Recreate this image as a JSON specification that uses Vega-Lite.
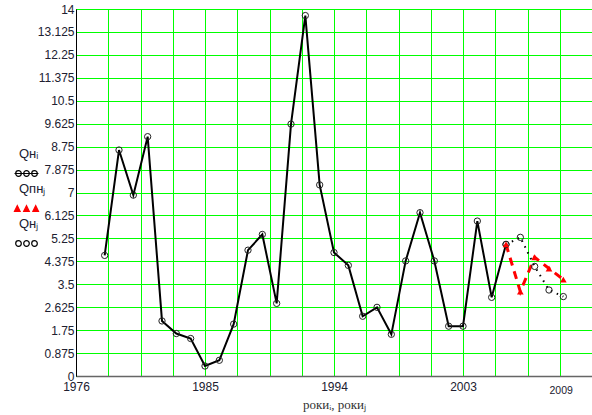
{
  "$schema": "https://vega.github.io/schema/vega-lite/v6.json",
  "width": 516,
  "height": 367,
  "autosize": {"type": "none"},
  "padding": {"left": 76, "top": 9, "right": 0, "bottom": 39},
  "background": "white",
  "config": {
    "view": {"stroke": "black", "strokeWidth": 1},
    "font": "Liberation Sans"
  },
  "data": {
    "values": [
      {"year": 1978, "Q": 4.6, "s": "a"},
      {"year": 1979, "Q": 8.62, "s": "a"},
      {"year": 1980, "Q": 6.9, "s": "a"},
      {"year": 1981, "Q": 9.13, "s": "a"},
      {"year": 1982, "Q": 2.1, "s": "a"},
      {"year": 1983, "Q": 1.62, "s": "a"},
      {"year": 1984, "Q": 1.43, "s": "a"},
      {"year": 1985, "Q": 0.38, "s": "a"},
      {"year": 1986, "Q": 0.6, "s": "a"},
      {"year": 1987, "Q": 1.98, "s": "a"},
      {"year": 1988, "Q": 4.8, "s": "a"},
      {"year": 1989, "Q": 5.4, "s": "a"},
      {"year": 1990, "Q": 2.77, "s": "a"},
      {"year": 1991, "Q": 9.61, "s": "a"},
      {"year": 1992, "Q": 13.75, "s": "a"},
      {"year": 1993, "Q": 7.29, "s": "a"},
      {"year": 1994, "Q": 4.71, "s": "a"},
      {"year": 1995, "Q": 4.22, "s": "a"},
      {"year": 1996, "Q": 2.28, "s": "a"},
      {"year": 1997, "Q": 2.62, "s": "a"},
      {"year": 1998, "Q": 1.59, "s": "a"},
      {"year": 1999, "Q": 4.39, "s": "a"},
      {"year": 2000, "Q": 6.23, "s": "a"},
      {"year": 2001, "Q": 4.39, "s": "a"},
      {"year": 2002, "Q": 1.9, "s": "a"},
      {"year": 2003, "Q": 1.9, "s": "a"},
      {"year": 2004, "Q": 5.91, "s": "a"},
      {"year": 2005, "Q": 3.0, "s": "a"},
      {"year": 2006, "Q": 5.02, "s": "a"},
      {"year": 2006, "Q": 5.02, "s": "b"},
      {"year": 2007, "Q": 3.22, "s": "b"},
      {"year": 2008, "Q": 4.53, "s": "b"},
      {"year": 2009, "Q": 4.1, "s": "b"},
      {"year": 2010, "Q": 3.68, "s": "b"},
      {"year": 2006, "Q": 5.02, "s": "c"},
      {"year": 2007, "Q": 5.29, "s": "c"},
      {"year": 2008, "Q": 4.18, "s": "c"},
      {"year": 2009, "Q": 3.28, "s": "c"},
      {"year": 2010, "Q": 3.03, "s": "c"}
    ]
  },
  "encoding": {
    "x": {
      "field": "year",
      "type": "quantitative",
      "scale": {"domain": [1976, 2012], "nice": false, "zero": false},
      "axis": {
        "values": [1976, 1978.25, 1980.5, 1982.75, 1985, 1987.25, 1989.5, 1991.75, 1994, 1996.25, 1998.5, 2000.75, 2003, 2005.25, 2007.5, 2009.75, 2012, 2009],
        "format": "d",
        "labelExpr": "indexof([1976,1985,1994,2003,2009], datum.value) >= 0 ? datum.label : ''",
        "grid": true,
        "gridColor": "#00ff00",
        "gridWidth": 1,
        "gridOpacity": {"condition": {"test": "datum.value == 2009", "value": 0}, "value": 1},
        "ticks": false,
        "labelFlush": false,
        "labelOverlap": false,
        "labelBound": false,
        "labelColor": "#202030",
        "labelFontSize": {"condition": {"test": "datum.value == 2009", "value": 10.5}, "value": 12},
        "labelAlign": {"condition": {"test": "datum.value == 2009", "value": "left"}, "value": "center"},
        "labelPadding": {"condition": {"test": "datum.value == 2009", "value": 9}, "value": 5},
        "domainColor": "#666666",
        "domainWidth": 1.5,
        "title": "рокиᵢ, рокиⱼ",
        "titleFont": "Liberation Serif",
        "titleFontSize": 13,
        "titleFontWeight": "normal",
        "titleColor": "#333333",
        "titlePadding": 3
      }
    },
    "y": {
      "field": "Q",
      "type": "quantitative",
      "scale": {"domain": [0, 14], "nice": false},
      "axis": {
        "values": [0, 0.875, 1.75, 2.625, 3.5, 4.375, 5.25, 6.125, 7, 7.875, 8.75, 9.625, 10.5, 11.375, 12.25, 13.125, 14],
        "format": ".3~f",
        "grid": true,
        "gridColor": "#00ff00",
        "gridWidth": 1,
        "ticks": false,
        "labelFontSize": 12,
        "labelColor": "#202030",
        "labelPadding": 2,
        "domainColor": "black",
        "domainWidth": 1,
        "title": null
      }
    }
  },
  "layer": [
    {
      "transform": [{"filter": "datum.s == 'a'"}],
      "mark": {"type": "line", "strokeWidth": 2},
      "encoding": {
        "color": {
          "field": "s",
          "type": "nominal",
          "scale": {"domain": ["a", "b", "c"], "range": ["black", "red", "black"]},
          "legend": {
            "orient": "none",
            "legendX": -56,
            "legendY": 158,
            "title": null,
            "symbolSize": 64,
            "symbolStrokeWidth": 1.2,
            "labelExpr": "datum.value == 'a' ? 'Qнᵢ' : datum.value == 'b' ? 'Qпнⱼ' : 'Qнⱼ'",
            "labelFont": "Liberation Sans",
            "labelFontSize": 13,
            "labelColor": "#202030",
            "labelOffset": -14,
            "rowPadding": 3,
            "encode": {
              "symbols": {
                "update": {
                  "shape": {"signal": "datum.value == 'a' ? 'M-3,0H3M-2.7,0a0.7,0.7 0 1,0 1.4,0a0.7,0.7 0 1,0 -1.4,0M-0.7,0a0.7,0.7 0 1,0 1.4,0a0.7,0.7 0 1,0 -1.4,0M1.3,0a0.7,0.7 0 1,0 1.4,0a0.7,0.7 0 1,0 -1.4,0' : datum.value == 'b' ? 'M-3,0.7L-2.3,-0.7L-1.6,0.7ZM-0.7,0.7L0,-0.7L0.7,0.7ZM1.6,0.7L2.3,-0.7L3,0.7Z' : 'M-2.7,0a0.7,0.7 0 1,0 1.4,0a0.7,0.7 0 1,0 -1.4,0M-0.7,0a0.7,0.7 0 1,0 1.4,0a0.7,0.7 0 1,0 -1.4,0M1.3,0a0.7,0.7 0 1,0 1.4,0a0.7,0.7 0 1,0 -1.4,0'"},
                  "fill": {"signal": "datum.value == 'b' ? 'red' : 'transparent'"}
                }
              },
              "labels": {
                "update": {"dy": {"value": -20}}
              }
            }
          }
        }
      }
    },
    {
      "transform": [{"filter": "datum.s == 'c'"}],
      "mark": {"type": "line", "color": "black", "strokeWidth": 2, "strokeDash": [1.5, 5]},
      "encoding": {}
    },
    {
      "transform": [{"filter": "datum.s == 'b'"}],
      "mark": {"type": "line", "color": "red", "strokeWidth": 3, "strokeDash": [8, 6]},
      "encoding": {}
    },
    {
      "transform": [{"filter": "datum.s != 'b'"}],
      "mark": {"type": "point", "shape": "circle", "filled": false, "color": "#222222", "size": 40, "strokeWidth": 1, "opacity": 1},
      "encoding": {}
    },
    {
      "transform": [{"filter": "datum.s == 'b'"}],
      "mark": {"type": "point", "shape": "triangle-up", "filled": true, "color": "red", "size": 45, "opacity": 1},
      "encoding": {}
    }
  ]
}
